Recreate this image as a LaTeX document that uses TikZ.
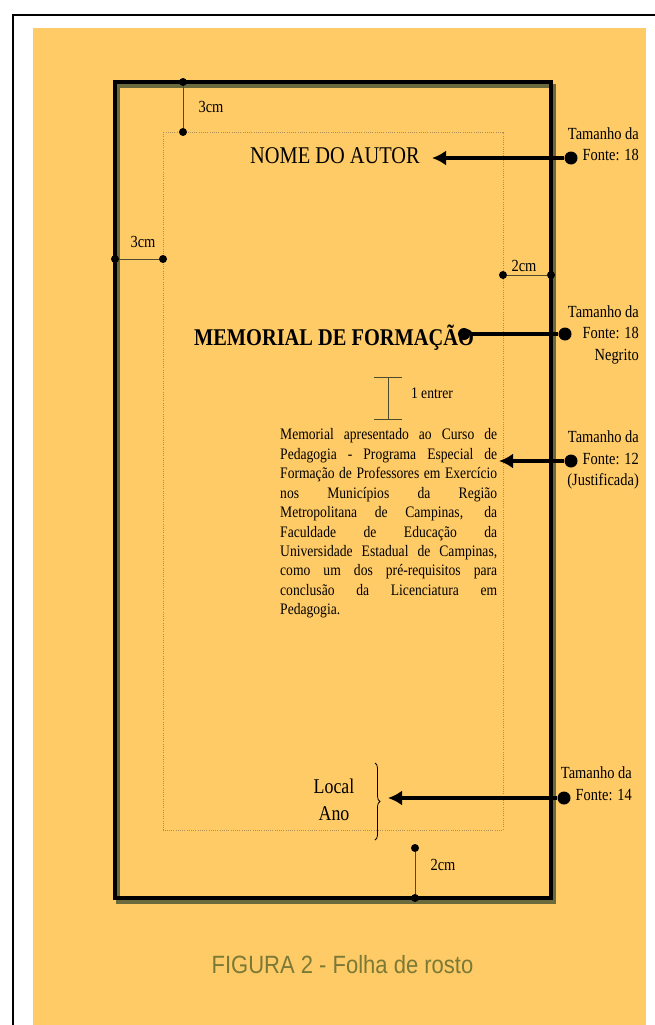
\documentclass[tikz,border=0pt]{standalone}
\usepackage{fontspec}
\setmainfont{Liberation Serif}[FakeStretch=0.85]
\newfontfamily\capfont{Liberation Sans}[FakeStretch=0.88]
\usetikzlibrary{positioning,arrows.meta,decorations.pathreplacing}
\definecolor{folha}{HTML}{FFCB66}
\definecolor{oliva}{HTML}{6B6A3C}
\definecolor{margem}{HTML}{A89058}
\definecolor{cota}{HTML}{4E4A2E}
\tikzset{pagebox/.style={line width=3.5pt,black},
  shadowbox/.style={line width=3.5pt,oliva},
  marginbox/.style={margem,line width=0.8pt,dash pattern=on 1pt off 1.2pt},
  dimline/.style={cota,line width=1pt},
  dimdot/.style={circle,fill=black,inner sep=0pt,minimum size=8pt},
  bigdot/.style={circle,fill=black,inner sep=0pt,minimum size=13pt},
  bigarrow/.style={line width=4pt,-{Latex[length=14pt,width=15pt]}},
  sizelabel/.style={align=right,inner sep=0pt,anchor=north east,font=\fontsize{17}{21.5}\selectfont},
  dimlabel/.style={inner sep=0pt,anchor=base,font=\fontsize{17}{20}\selectfont}}

\begin{document}
\begin{tikzpicture}[x=1pt,y=-1pt]
	\useasboundingbox (0,0) rectangle (655,1025);
	% fundo
	\draw[line width=2pt] (12.5,1030) |- (660,15);
	\fill[folha] (33,28) rectangle (646,1025);
	% folha e margens
	\draw[shadowbox] (118,86) rectangle (554,902);
	\draw[pagebox] (115,82) rectangle (551,898);
	\draw[marginbox] (163,132) rectangle (503,830);
	% cotas
	\node[dimdot] (t1) at (183,82) {};
	\node[dimdot] (t2) at (183,132) {};
	\draw[dimline] (t1) -- (t2);
	\node[dimlabel] (tl) at (211,112) {3cm};
	\node[dimdot] (l1) at (115,259) {};
	\node[dimdot] (l2) at (163,259) {};
	\draw[dimline] (l1) -- (l2);
	\node[dimlabel] (ll) at (143,247) {3cm};
	\node[dimdot] (r1) at (503,275) {};
	\node[dimdot] (r2) at (551,275) {};
	\draw[dimline] (r1) -- (r2);
	\node[dimlabel] (rl) at (524,271) {2cm};
	\node[dimdot] (b1) at (415,848) {};
	\node[dimdot] (b2) at (415,898) {};
	\draw[dimline] (b1) -- (b2);
	\node[dimlabel] (bl) at (443,870) {2cm};
	% textos da folha
	\node[anchor=base,inner sep=0pt,font=\fontsize{24}{28}\selectfont] (autor) at (335,163) {NOME DO AUTOR};
	\node[anchor=base,inner sep=0pt,font=\fontsize{24}{28}\selectfont\bfseries] (titulo) at (334,345) {MEMORIAL DE FORMAÇÃO};
	\draw[cota,line width=1pt] (388,377) -- (388,419);
	\draw[cota,line width=1pt] (374,377) -- (402,377);
	\draw[cota,line width=1pt] (374,419) -- (402,419);
	\node[dimlabel,font=\fontsize{16}{19}\selectfont] (entrer) at (432,398) {1 entrer};
	\node[anchor=north west,inner sep=0pt,text width=217pt,align=justify,font=\fontsize{16}{19.45}\selectfont] (resumo) at (280,428.5) {Memorial apresentado ao Curso de\linebreak Pedagogia - Programa Especial de\linebreak Formação de Professores em Exercício\linebreak nos Municípios da Região\linebreak Metropolitana de Campinas, da\linebreak Faculdade de Educação da\linebreak Universidade Estadual de Campinas,\linebreak como um dos pré-requisitos para\linebreak conclusão da Licenciatura em\linebreak Pedagogia.};
	\node[anchor=north,inner sep=0pt,align=center,font=\fontsize{21}{27}\selectfont] (local) at (334,778.5) {Local\\Ano};
	\draw[decorate,decoration={brace,amplitude=5pt},line width=0.8pt] (375,763) -- (375,840);
	% tamanhos de fonte
	\node[sizelabel] (s1) at (639,127.5) {Tamanho da\\Fonte: 18};
	\node[sizelabel] (s2) at (639,305.5) {Tamanho da\\Fonte: 18\\Negrito};
	\node[sizelabel] (s3) at (639,430.5) {Tamanho da\\Fonte: 12\\(Justificada)};
	\node[sizelabel] (s4) at (632,766.5) {Tamanho da\\Fonte: 14};
	\node[bigdot] (d1) at (571,158) {};
	\node[bigdot] (d2) at (565,334) {};
	\node[bigdot] (d3) at (571,461) {};
	\node[bigdot] (d4) at (564,798) {};
	\coordinate (a1) at (432,158);
	\node[bigdot,minimum size=12pt] (a2) at (464,334) {};
	\coordinate (a3) at (499,461);
	\coordinate (a4) at (388,798);
	\draw[bigarrow] (d1) -- (a1);
	\draw[line width=4pt] (d2) -- (a2);
	\draw[bigarrow] (d3) -- (a3);
	\draw[bigarrow] (d4) -- (a4);
	% legenda
	\node[anchor=base,inner sep=0pt,font=\capfont\fontsize{25}{30}\selectfont,text=oliva!90!yellow] (legenda) at (342.5,973) {FIGURA 2 - Folha de rosto};
\end{tikzpicture}
\end{document}
